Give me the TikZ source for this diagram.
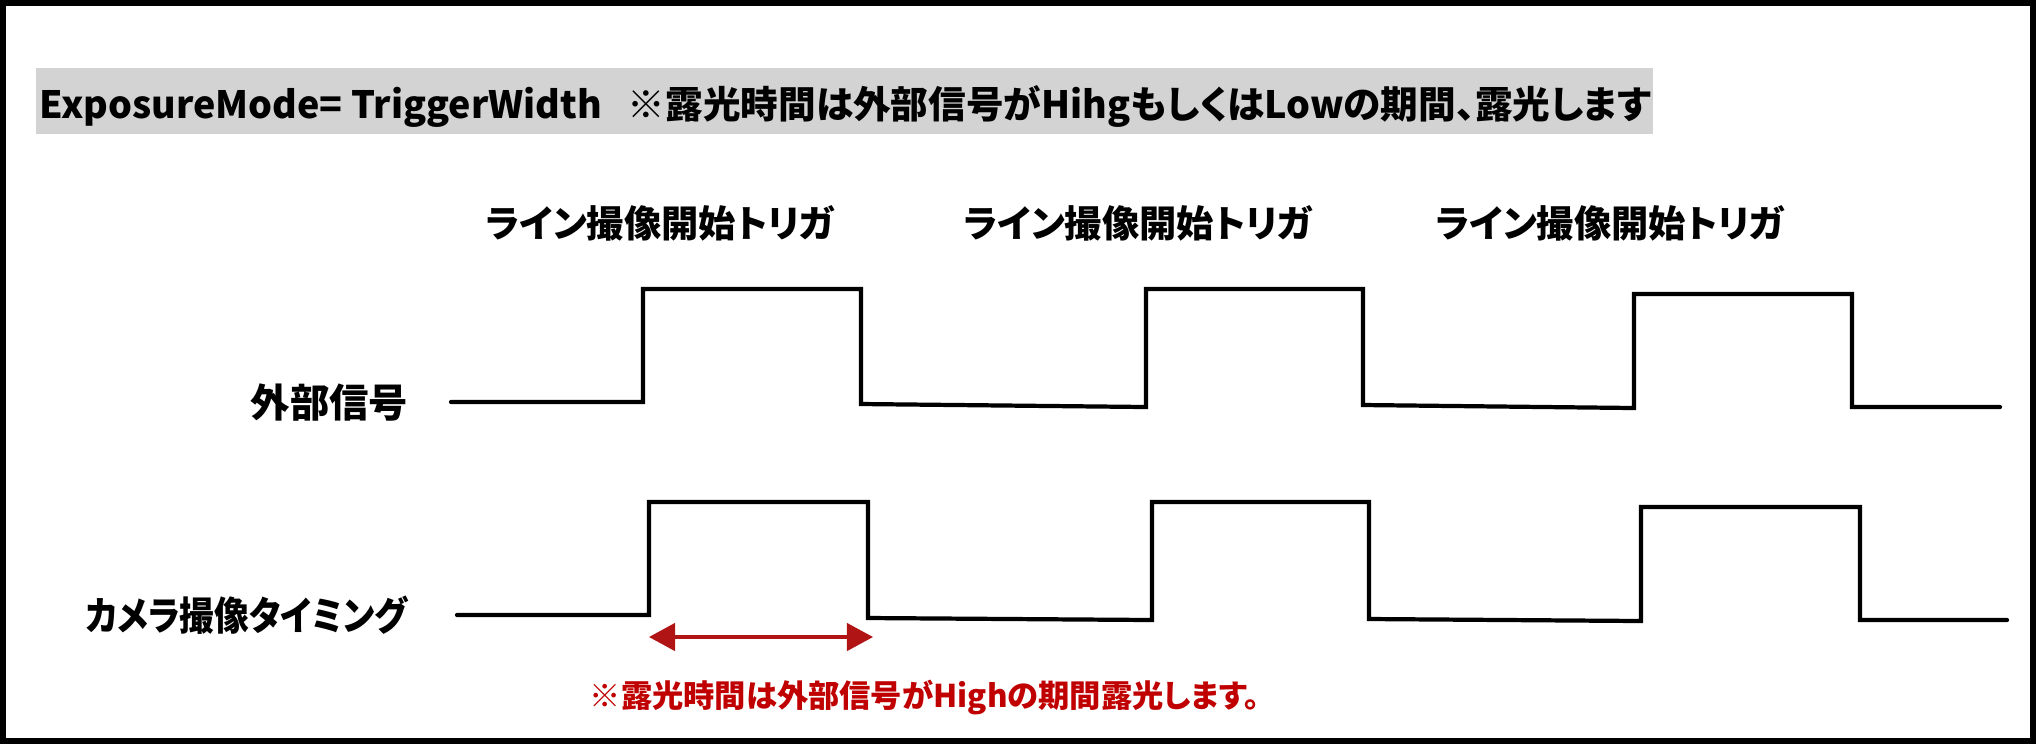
\documentclass[tikz,border=0pt]{standalone}
\usepackage{fontspec}
\newfontfamily\jpfont[RawFeature=+palt]{Noto Sans CJK JP}
\newfontfamily\jpnarrow[RawFeature=+palt, FakeStretch=0.88]{Noto Sans CJK JP}
\usepackage{tikz}
\usetikzlibrary{arrows.meta}
\definecolor{bandgray}{RGB}{211,211,211}
\definecolor{spanred}{RGB}{176,20,20}
\definecolor{notered}{RGB}{192,0,0}

\begin{document}
\begin{tikzpicture}[
    x=0.01cm, y=-0.01cm,
    frame/.style={draw=black, line width=1.85pt},
    band/.style={fill=bandgray},
    wave/.style={draw=black, line width=1.2pt, line cap=round, line join=miter},
    span/.style={{Triangle[length=7.4pt,width=7.8pt]}-{Triangle[length=7.4pt,width=7.8pt]}, spanred, line width=0.9pt},
    hdr/.style={inner sep=0pt, font=\jpfont\bfseries\fontsize{10.7pt}{12pt}\selectfont},
    trig/.style={inner sep=0pt, font=\jpfont\bfseries\fontsize{10.6pt}{12pt}\selectfont},
    sig/.style={inner sep=0pt, anchor=east, font=\jpfont\bfseries\fontsize{11.2pt}{12pt}\selectfont},
    note/.style={inner sep=0pt, anchor=west, text=notered, font=\jpfont\bfseries\fontsize{8.9pt}{10pt}\selectfont},
]
\useasboundingbox (0,0) rectangle (2036,744);
\draw[frame] (3,3) rectangle (2033,741);
% header
\fill[band] (36,68) rectangle (1653,134);
\node[hdr, anchor=base west] (mode) at (39,118) {ExposureMode= TriggerWidth\ \ \ ※露光時間は外部信号がHihgもしくはLowの期間、露光します};
% triggers
\foreach \x/\n in {660/trigA, 1138/trigB, 1610/trigC} {
  \node[trig] (\n) at (\x,223) {ライン撮像開始トリガ};
}
% signals
\node[sig] (ext) at (409,403) {外部信号};
\node[sig, font=\jpnarrow\bfseries\fontsize{11.2pt}{12pt}\selectfont] (cam) at (408,615) {カメラ撮像タイミング};
\draw[wave] (451,402) -- (643,402) -- (643,289) -- (861,289) -- (861,404) -- (1146,407)
  -- (1146,289) -- (1363,289) -- (1363,405) -- (1634,408) -- (1634,294) -- (1852,294)
  -- (1852,407) -- (2000,407);
\draw[wave] (457,615) -- (649,615) -- (649,502) -- (868,502) -- (868,618) -- (1152,620)
  -- (1152,502) -- (1369,502) -- (1369,619) -- (1641,621) -- (1641,507) -- (1860,507)
  -- (1860,620) -- (2007,620);
% exposure span
\coordinate (expL) at (649,637);
\coordinate (expR) at (873,637);
\draw[span] (expL) -- (expR);
\node[note] (expnote) at (589,697) {※露光時間は外部信号がHighの期間露光します。};
\end{tikzpicture}
\end{document}
